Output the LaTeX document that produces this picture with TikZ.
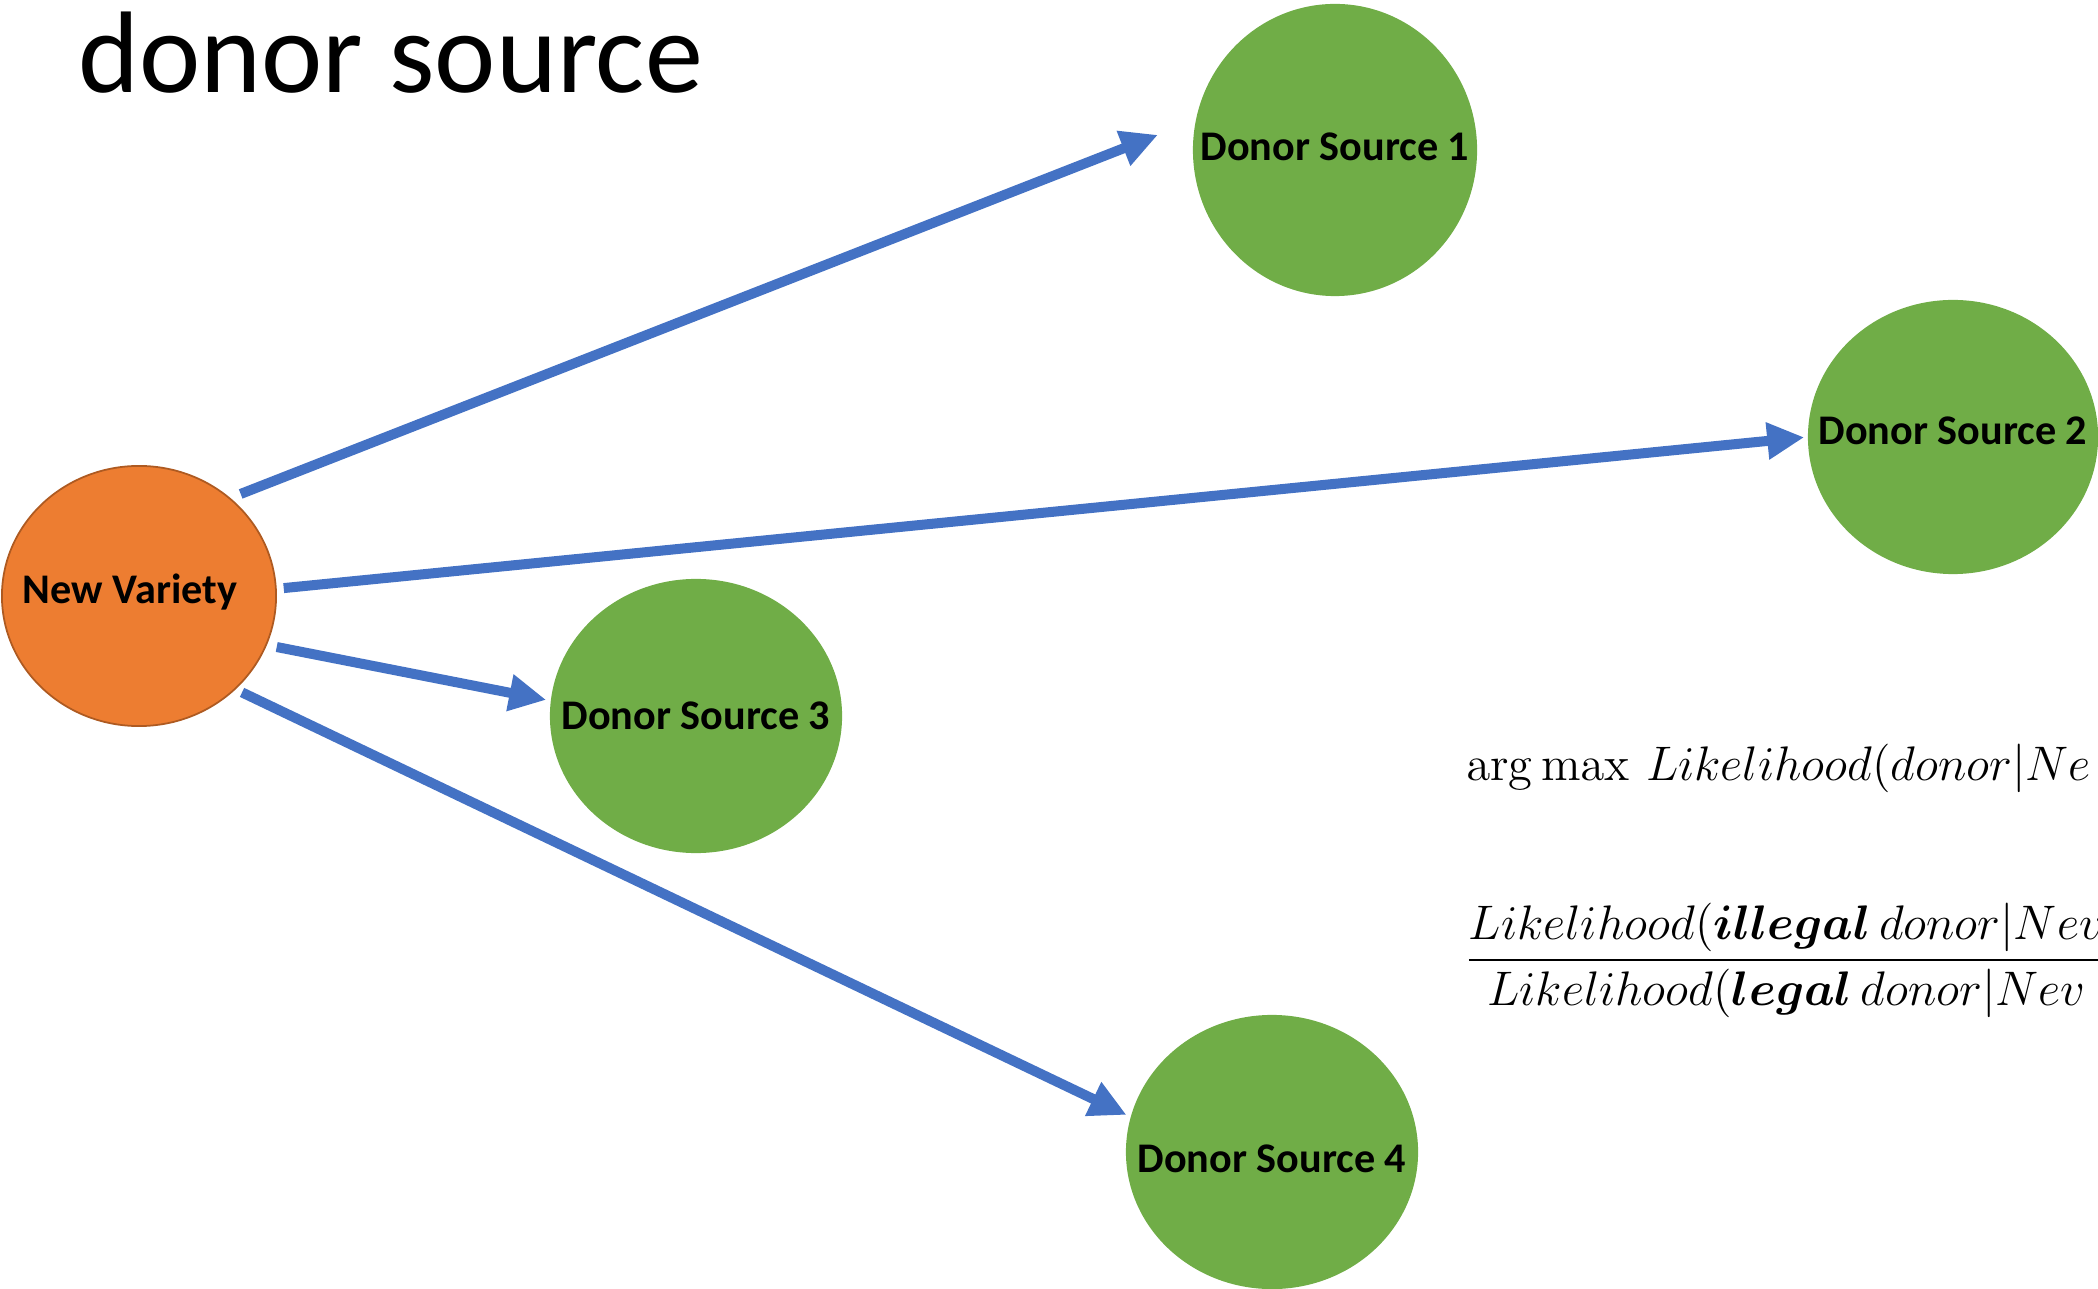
\RequirePackage{fix-cm}
\documentclass[tikz,border=0pt]{standalone}
\usepackage{amsmath}
\usepackage{bm}
\usepackage[no-math]{fontspec}
\setmainfont{Carlito}
\usetikzlibrary{arrows.meta, shapes.geometric}
\definecolor{varietyFill}{RGB}{237, 125, 49}
\definecolor{varietyLine}{RGB}{174, 90, 33}
\definecolor{donorFill}{RGB}{112, 173, 71}
\definecolor{linkColor}{RGB}{68, 114, 196}
\tikzset{
    variety_node/.style={
        ellipse,
        draw=varietyLine,
        line width=0.5pt,
        fill=varietyFill,
        inner xsep=-0.6cm,
        inner ysep=0pt,
        font=\fontsize{12}{14}\selectfont\bfseries,
        minimum width=2.74cm,
        minimum height=2.60cm
    },
    donor_node/.style={
        ellipse,
        fill=donorFill,
        inner xsep=-0.6cm,
        inner ysep=0pt,
        font=\fontsize{12}{14}\selectfont\bfseries,
        minimum width=2.92cm,
        minimum height=2.74cm
    },
    link_edge/.style={
        -{Triangle[length=0.37cm, width=0.35cm]},
        line width=0.1cm,
        draw=linkColor
    },
    formula_text/.style={
        anchor=base west,
        inner sep=0pt,
        font=\fontsize{13.8}{16}\selectfont
    }
}

\begin{document}
\begin{tikzpicture}[x=0.01cm, y=-0.01cm]
    \useasboundingbox (0,0) rectangle (2098,1289);
    \clip (0,0) rectangle (2098,1289);

    \node[anchor=base west, inner sep=0pt, font=\fontsize{33}{40}\selectfont]
        (title) at (78,93) {donor source};

    \node[variety_node, text depth=0.15cm] (nv) at (139,596) {New Variety\hspace*{0.18cm}};
    \node[donor_node, minimum width=2.84cm, minimum height=2.92cm, text depth=0.07cm] (ds1) at (1335,150) {Donor Source 1};
    \node[donor_node, minimum width=2.90cm, text depth=0.12cm] (ds2) at (1953,437) {Donor Source 2};
    \node[donor_node] (ds3) at (696,716) {Donor Source 3};
    \node[donor_node, text height=0.41cm] (ds4) at (1272,1152) {Donor Source 4};

    \draw[link_edge, shorten <=0.11cm, shorten >=0.40cm] (nv.47.8) -- (ds1.168.5);
    \draw[link_edge, shorten <=0.07cm, shorten >=0.03cm] (nv.3.2) -- (ds2.west);
    \draw[link_edge, shorten <=0.10cm, shorten >=0.04cm] (nv.-21.7) -- (ds3.174.8);
    \draw[link_edge, shorten <=0.07cm, shorten >=0.04cm] (nv.-44.1) -- (ds4.166);

    \node[formula_text] (argmax) at (1466,780)
        {$\arg\max\, Likelihood(donor|Ne$};
    \node[formula_text] (ratio) at (1464,972)
        {$\dfrac{Likelihood(\bm{illegal}\,donor|Nev}{Likelihood(\bm{legal}\,donor|Nev}$};
\end{tikzpicture}
\end{document}
